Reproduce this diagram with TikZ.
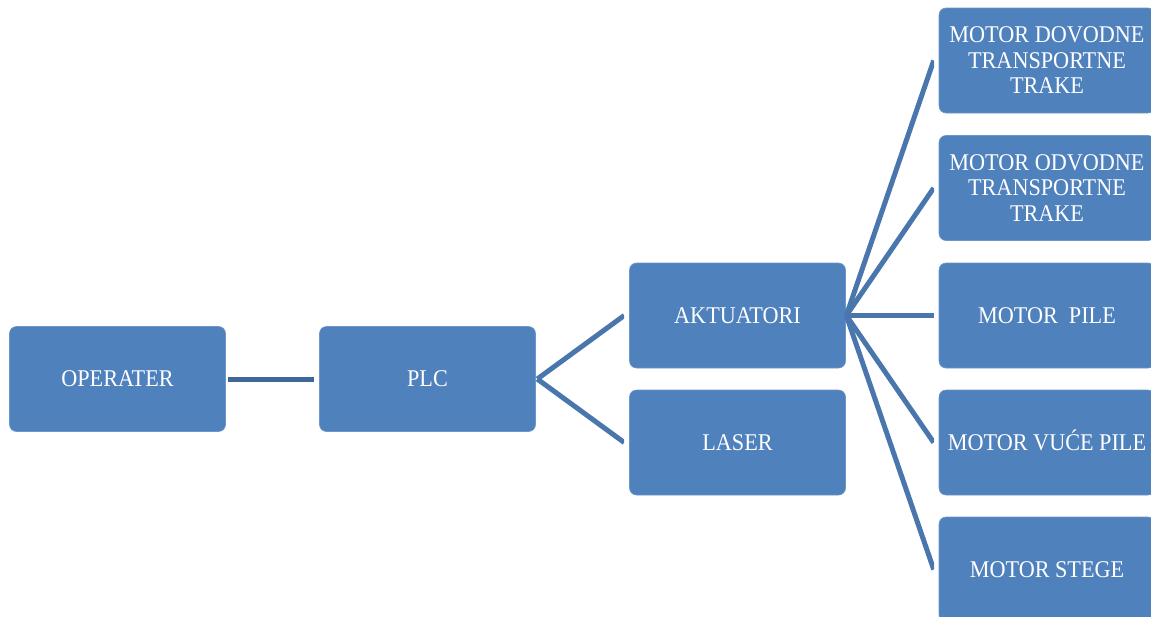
\documentclass[tikz,border=0pt]{standalone}
\usepackage{fontspec}
\setmainfont[FakeStretch=0.925]{Liberation Serif}
\definecolor{boxfill}{HTML}{4F81BD}
\definecolor{boxedge}{HTML}{6E97C9}
\definecolor{linkblue}{HTML}{4A76AE}
\definecolor{linkdark}{HTML}{3F6797}
\tikzset{
  blockbox/.style={draw=boxedge,line width=0.6pt,fill=boxfill,rounded corners=7pt,
    minimum width=216pt,minimum height=105pt,inner sep=0pt,align=center,text=white,
    font=\fontsize{24}{25.5}\selectfont},
  link/.style={draw=linkblue,line width=5pt,line join=miter},
  linkstrong/.style={draw=linkdark,line width=5pt}
}
\begin{document}
\begin{tikzpicture}[x=1pt,y=-1pt]
\useasboundingbox (0,0) rectangle (1151,616);
\clip (0,0) rectangle (1151,616);
\node[blockbox] (op) at (117.5,379) {OPERATER};
\node[blockbox] (plc) at (427.5,379) {PLC};
\node[blockbox] (akt) at (737.5,315.5) {AKTUATORI};
\node[blockbox] (las) at (737.5,442.5) {LASER};
\node[blockbox] (m1) at (1047,60.5) {MOTOR DOVODNE\\TRANSPORTNE\\TRAKE};
\node[blockbox] (m2) at (1047,188) {MOTOR ODVODNE\\TRANSPORTNE\\TRAKE};
\node[blockbox] (m3) at (1047,315.5) {MOTOR\ \ PILE};
\node[blockbox] (m4) at (1047,442.5) {\raisebox{0pt}[16pt][0pt]{MOTOR VUĆE PILE}};
\node[blockbox] (m5) at (1047,569.5) {MOTOR STEGE};
\draw[linkstrong,shorten <=2pt,shorten >=5pt] (op.east) -- (plc.west);
\begin{scope}
\clip (530,250) rectangle (624,500);
\draw[link] ([xshift=1.5pt]plc.east) -- ([xshift=-5pt]akt.west);
\draw[link] ([xshift=1.5pt]plc.east) -- ([xshift=-5pt]las.west);
\end{scope}
\begin{scope}
\clip (840,0) rectangle (934,616);
\foreach \target in {m1,m2,m3,m4,m5}
  \draw[link] ([xshift=0.5pt]akt.east) -- ([xshift=-5pt]\target.west);
\end{scope}
\end{tikzpicture}
\end{document}
